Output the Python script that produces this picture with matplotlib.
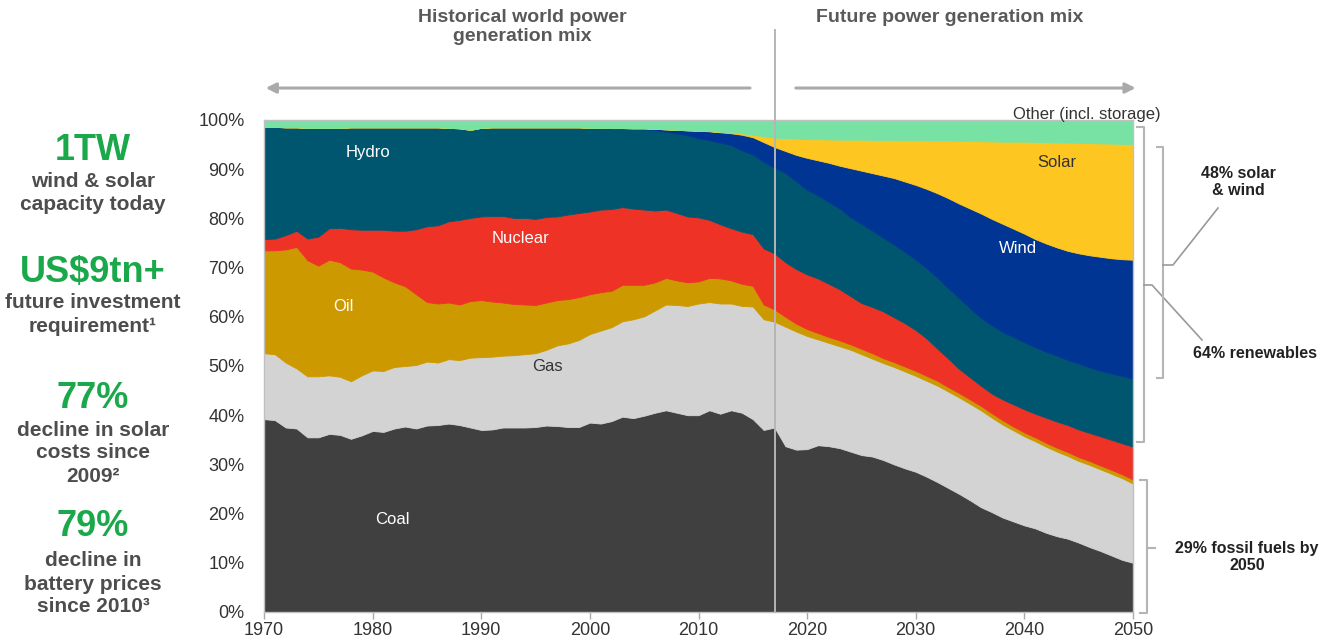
import matplotlib
matplotlib.use("Agg")
import matplotlib.pyplot as plt
from matplotlib.lines import Line2D
import numpy as np

# ---------------- data (cumulative top boundary of each layer, % of generation) -------------
years = list(range(1970, 2051))

coal_top = [39.2, 39.0, 37.5, 37.3, 35.5, 35.5, 36.2, 36.0, 35.2, 35.9,
            36.8, 36.6, 37.3, 37.7, 37.3, 37.9, 38.0, 38.3, 38.0, 37.5,
            37.0, 37.1, 37.5, 37.5, 37.5, 37.6, 37.9, 37.8, 37.6, 37.6,
            38.5, 38.3, 38.8, 39.7, 39.4, 39.9, 40.5, 41.0, 40.5, 40.0,
            40.0, 41.0, 40.3, 41.0, 40.5, 39.2, 37.0, 37.5, 33.7, 33.0,
            33.1, 33.9, 33.7, 33.3, 32.6, 31.9, 31.6, 30.9, 30.0, 29.2,
            28.5, 27.5, 26.4, 25.2, 24.0, 22.7, 21.3, 20.3, 19.2, 18.4,
            17.6, 17.0, 16.1, 15.4, 14.9, 14.1, 13.2, 12.4, 11.5, 10.6,
            10.0]
gas_top = [52.6, 52.4, 50.7, 49.5, 47.9, 47.9, 48.1, 47.8, 46.9, 48.1,
           49.1, 49.0, 49.8, 50.0, 50.2, 50.9, 50.7, 51.4, 51.2, 51.7,
           51.8, 51.9, 52.1, 52.2, 52.4, 52.6, 53.3, 54.2, 54.6, 55.3,
           56.5, 57.2, 57.9, 59.1, 59.5, 60.1, 61.3, 62.5, 62.4, 62.2,
           62.7, 63.0, 62.7, 62.7, 62.2, 62.1, 59.5, 59.0, 58.0, 57.0,
           56.1, 55.4, 54.7, 54.0, 53.3, 52.4, 51.5, 50.6, 49.8, 48.9,
           48.0, 47.0, 46.0, 44.8, 43.6, 42.3, 41.0, 39.5, 38.1, 36.9,
           35.7, 34.7, 33.6, 32.6, 31.7, 30.7, 29.9, 29.0, 28.1, 27.2,
           26.1]
oil_top = [73.5, 73.5, 73.7, 74.2, 71.5, 70.4, 71.6, 71.1, 69.8, 69.6,
           69.2, 68.0, 67.0, 66.2, 64.6, 63.0, 62.7, 62.9, 62.5, 63.2,
           63.4, 63.1, 62.9, 62.6, 62.5, 62.4, 62.9, 63.4, 63.6, 64.0,
           64.6, 65.0, 65.3, 66.5, 66.5, 66.5, 67.0, 67.9, 67.4, 67.0,
           67.2, 67.9, 67.8, 67.4, 66.7, 66.3, 62.5, 61.5, 60.0, 58.6,
           57.5, 56.7, 55.9, 55.2, 54.4, 53.5, 52.6, 51.6, 50.8, 49.9,
           49.0, 48.0, 47.0, 45.7, 44.5, 43.2, 41.9, 40.4, 39.0, 37.7,
           36.5, 35.5, 34.4, 33.4, 32.5, 31.5, 30.7, 29.8, 28.9, 28.0,
           26.9]
nuclear_top = [75.8, 75.9, 76.6, 77.5, 75.9, 76.3, 78.0, 78.1, 77.8, 77.7,
               77.7, 77.7, 77.5, 77.5, 77.8, 78.4, 78.6, 79.4, 79.7, 80.1,
               80.4, 80.5, 80.5, 80.1, 80.1, 79.9, 80.3, 80.4, 80.8, 81.1,
               81.4, 81.8, 81.9, 82.3, 82.0, 81.8, 81.6, 81.8, 81.1, 80.4,
               80.2, 79.7, 78.8, 78.0, 77.3, 76.8, 73.9, 72.9, 71.1, 69.7,
               68.6, 67.8, 66.7, 65.6, 64.2, 62.8, 62.0, 61.1, 59.9, 58.7,
               57.3, 55.6, 53.5, 51.5, 49.4, 47.7, 46.0, 44.4, 43.2, 42.2,
               41.2, 40.3, 39.5, 38.7, 38.0, 37.1, 36.4, 35.7, 35.0, 34.3,
               33.6]
hydro_top = [98.6, 98.6, 98.5, 98.5, 98.4, 98.4, 98.4, 98.4, 98.5, 98.5,
             98.5, 98.5, 98.5, 98.5, 98.5, 98.5, 98.5, 98.4, 98.3, 98.0,
             98.4, 98.5, 98.5, 98.5, 98.5, 98.5, 98.5, 98.5, 98.5, 98.5,
             98.4, 98.4, 98.3, 98.3, 98.2, 98.1, 97.9, 97.6, 97.3, 96.9,
             96.3, 95.9, 95.4, 94.9, 93.8, 93.0, 91.5, 90.3, 89.2, 87.5,
             85.8, 84.7, 83.3, 82.0, 80.2, 78.9, 77.5, 76.1, 74.7, 73.2,
             71.6, 69.9, 67.9, 65.8, 63.8, 61.7, 59.8, 58.3, 56.9, 55.9,
             54.8, 53.8, 52.9, 52.1, 51.2, 50.5, 49.7, 49.0, 48.5, 48.0,
             47.4]
wind_top = [98.6, 98.6, 98.5, 98.5, 98.4, 98.4, 98.4, 98.4, 98.5, 98.5,
            98.5, 98.5, 98.5, 98.5, 98.5, 98.5, 98.5, 98.4, 98.3, 98.0,
            98.4, 98.5, 98.5, 98.5, 98.5, 98.5, 98.5, 98.5, 98.5, 98.5,
            98.4, 98.4, 98.35, 98.35, 98.3, 98.3, 98.2, 98.1, 98.0, 97.9,
            97.8, 97.7, 97.5, 97.3, 97.0, 96.5, 95.5, 94.5, 93.7, 92.9,
            92.3, 91.8, 91.3, 90.7, 90.2, 89.7, 89.2, 88.7, 88.2, 87.5,
            86.8, 86.0, 85.1, 84.1, 83.0, 82.0, 81.0, 79.9, 78.9, 77.9,
            76.9, 75.8, 74.9, 74.1, 73.4, 72.9, 72.5, 72.2, 71.9, 71.7,
            71.6]
solar_top = [98.6, 98.6, 98.5, 98.5, 98.4, 98.4, 98.4, 98.4, 98.5, 98.5,
             98.5, 98.5, 98.5, 98.5, 98.5, 98.5, 98.5, 98.4, 98.3, 98.0,
             98.4, 98.5, 98.5, 98.5, 98.5, 98.5, 98.5, 98.5, 98.5, 98.5,
             98.4, 98.4, 98.35, 98.35, 98.3, 98.3, 98.2, 98.1, 98.0, 97.9,
             97.85, 97.75, 97.6, 97.5, 97.3, 97.0, 96.7, 96.4, 96.3, 96.2,
             96.1, 96.1, 96.05, 96.0, 96.0, 96.0, 95.95, 95.95, 95.9, 95.9,
             95.9, 95.85, 95.8, 95.8, 95.75, 95.7, 95.7, 95.65, 95.6, 95.6,
             95.6, 95.55, 95.5, 95.45, 95.4, 95.35, 95.3, 95.25, 95.2, 95.15,
             95.1]
total_top = [100.0] * len(years)

layer_names = ["Coal", "Gas", "Oil", "Nuclear", "Hydro", "Wind", "Solar", "Other (incl. storage)"]
layer_colors = ["#404040", "#d3d3d3", "#cc9900", "#ee3226", "#00566f", "#003594", "#fec620", "#78e2a4"]

# ---------------- figure ----------------
plt.rcParams['font.family'] = ['Liberation Sans', 'DejaVu Sans']
W, H = 1340, 642
fig = plt.figure(figsize=(W / 100, H / 100), dpi=100)
fig.patch.set_facecolor("white")

L, R, B, T = 264, 1133, 612, 120          # pixel box of the plot area
ax = fig.add_axes([L / W, 1 - B / H, (R - L) / W, (B - T) / H])

tops = np.array([coal_top, gas_top, oil_top, nuclear_top, hydro_top, wind_top, solar_top, total_top])
shares = np.diff(np.vstack([np.zeros(len(years)), tops]), axis=0)
polys = ax.stackplot(years, *shares, colors=layer_colors, labels=layer_names)
for p, c in zip(polys, layer_colors):
    p.set_edgecolor(c)
    p.set_linewidth(0.6)

ax.set_xlim(1970, 2050)
ax.set_ylim(0, 100)
ax.set_xticks(range(1970, 2051, 10))
ax.set_yticks(range(0, 101, 10))
ax.set_yticklabels([f"{v}%" for v in range(0, 101, 10)])
narrow = ['Liberation Sans Narrow', 'Liberation Sans', 'DejaVu Sans']
for lab in ax.get_xticklabels() + ax.get_yticklabels():
    lab.set_family(narrow)
    lab.set_fontsize(13)
    lab.set_color("#333333")
ax.tick_params(axis='y', length=0, pad=14)
ax.tick_params(axis='x', length=5, color="#aaaaaa", width=1, pad=2)
for s in ax.spines.values():
    s.set_color("#c0c0c0")
    s.set_linewidth(1)

# divider 2017
ax.plot([2017, 2017], [0, 118.3], color="#b5b5b5", lw=1.4, clip_on=False, zorder=5)

# arrows
ax.annotate("", xy=(1969.9, 106.5), xytext=(2015.0, 106.5), xycoords='data',
            arrowprops=dict(arrowstyle='-|>,head_length=0.6,head_width=0.3', color="#aaaaaa", lw=2.2),
            annotation_clip=False)
ax.annotate("", xy=(2050.5, 106.5), xytext=(2018.7, 106.5), xycoords='data',
            arrowprops=dict(arrowstyle='-|>,head_length=0.6,head_width=0.3', color="#aaaaaa", lw=2.2),
            annotation_clip=False)

# headers
def fx(px):
    return px / W

def fy(py):
    return 1 - py / H

fig.text(fx(522), fy(27), "Historical world power\ngeneration mix", ha='center', va='center',
         family=narrow, fontweight='bold', fontsize=14, color="#595959", linespacing=1.2)
fig.text(fx(950), fy(17), "Future power generation mix", ha='center', va='center',
         family=narrow, fontweight='bold', fontsize=14, color="#595959")

# layer labels
lab_kw = dict(ha='center', va='center', fontsize=12)
ax.text(1979.6, 93.3, "Hydro", color="white", **lab_kw)
ax.text(1993.6, 76.0, "Nuclear", color="white", **lab_kw)
ax.text(1977.3, 62.0, "Oil", color="white", **lab_kw)
ax.text(1996.1, 49.8, "Gas", color="#333333", **lab_kw)
ax.text(1981.8, 18.7, "Coal", color="white", **lab_kw)
ax.text(2039.4, 73.8, "Wind", color="white", **lab_kw)
ax.text(2043.0, 91.3, "Solar", color="#333333", **lab_kw)
fig.text(fx(1087), fy(114), "Other (incl. storage)", ha='center', va='center', fontsize=12, color="#333333")

# left panel
green = "#1aa84a"
grey_txt = "#4d4d4d"
left_items = [
    ("1TW", 150, 'big'), ("wind & solar", 182, 's'), ("capacity today", 205, 's'),
    ("US$9tn+", 272, 'big'), ("future investment", 303, 's'), ("requirement\u00b9", 327, 's'),
    ("77%", 398, 'big'), ("decline in solar", 430, 's'), ("costs since", 453, 's'), ("2009\u00b2", 476, 's'),
    ("79%", 527, 'big'), ("decline in", 560, 's'), ("battery prices", 584, 's'), ("since 2010\u00b3", 607, 's'),
]
for txt, py, kind in left_items:
    if kind == 'big':
        fig.text(fx(93), fy(py), txt, ha='center', va='center', fontsize=26, fontweight='bold', color=green)
    else:
        fig.text(fx(93), fy(py), txt, ha='center', va='center', fontsize=15, fontweight='bold', color=grey_txt)

# right annotations (braces and leaders)
bc = "#b5b5b5"

def fline(xs, ys, color=bc, lw=1.5):
    fig.add_artist(Line2D([fx(x) for x in xs], [fy(y) for y in ys], color=color, lw=lw,
                          transform=fig.transFigure))

# renewables brace
fline([1137, 1144, 1144, 1137], [127, 127, 442, 442])
fline([1144, 1152, 1202], [285, 285, 340], color="#999999", lw=1.2)
# solar & wind brace
fline([1157, 1163, 1163, 1157], [147, 147, 378, 378])
fline([1163, 1173, 1218], [265, 265, 208], color="#999999", lw=1.2)
# fossil brace
fline([1140, 1147, 1147, 1140], [480, 480, 613, 613])
fline([1147, 1155], [548, 548])

ann_kw = dict(ha='center', va='center', fontsize=11.5, fontweight='bold', color="#222222")
fig.text(fx(1238), fy(182), "48% solar\n& wind", linespacing=1.15, **ann_kw)
fig.text(fx(1255), fy(353), "64% renewables", **ann_kw)
fig.text(fx(1247), fy(557), "29% fossil fuels by\n2050", linespacing=1.15, **ann_kw)

fig.savefig("out.png", dpi=100, facecolor="white")
